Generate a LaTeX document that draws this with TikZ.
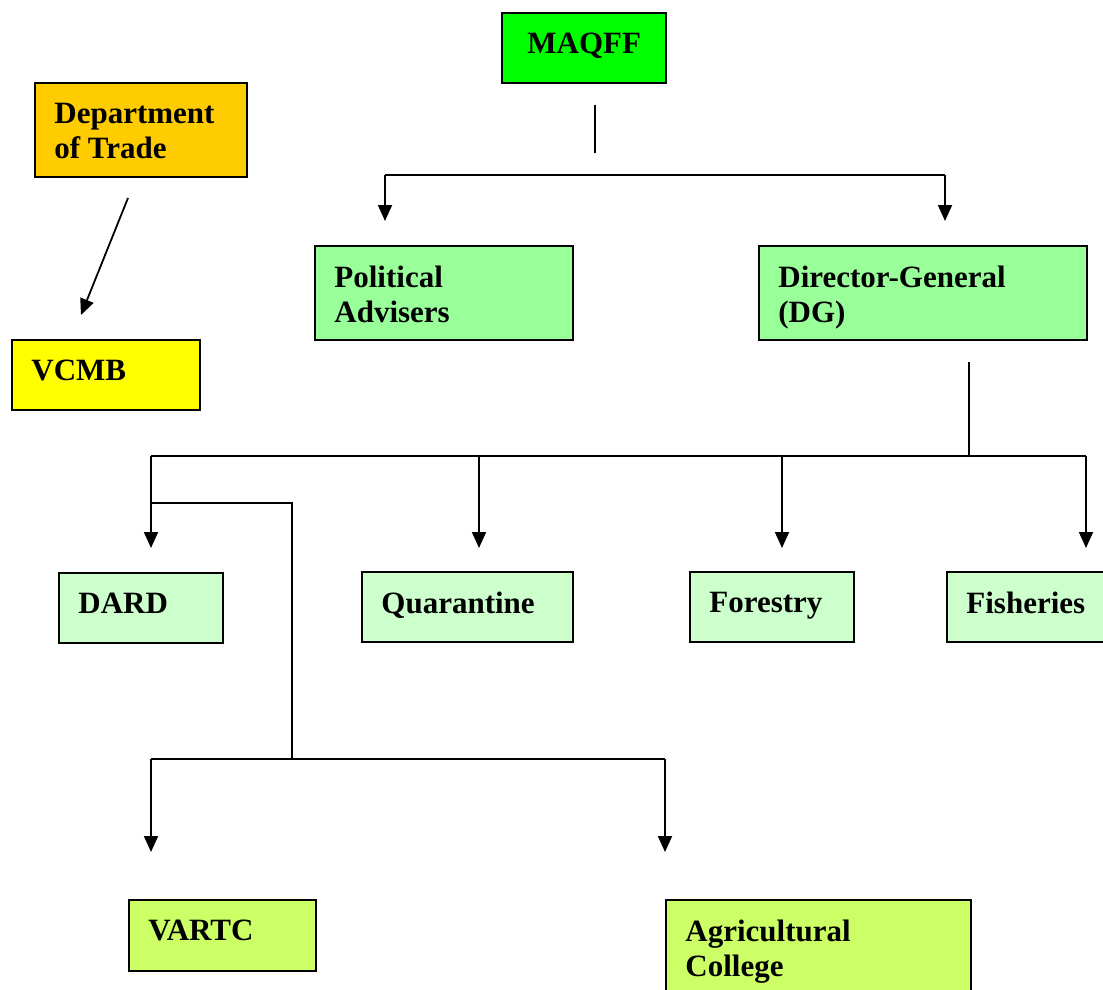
\documentclass[tikz,border=0pt]{standalone}
\usepackage{xcolor}
\usepackage{fontspec}
\setmainfont{Liberation Serif}
\usepackage{tikz}
\usetikzlibrary{positioning,arrows.meta}

\definecolor{maqffgreen}{HTML}{00FF00}
\definecolor{tradeorange}{HTML}{FFCC00}
\definecolor{vcmbyellow}{HTML}{FFFF00}
\definecolor{dggreen}{HTML}{99FF99}
\definecolor{deptgreen}{HTML}{CCFFCC}
\definecolor{collgreen}{HTML}{CCFF66}

\tikzset{
	orgbox/.style={draw=black, line width=1pt, anchor=north west, inner sep=0pt},
	orglbl/.style={anchor=north west, inner sep=0pt, align=left, xshift=10pt, yshift=-10.5pt,
		font=\bfseries\fontsize{15.5pt}{17.5pt}\selectfont},
	link/.style={line width=0.9pt},
	arr/.style={line width=0.9pt, -{Triangle[length=8pt,width=7pt]}}
}

\begin{document}
\begin{tikzpicture}[x=0.5pt, y=-0.5pt]
	\useasboundingbox (0,0) rectangle (1103,990);
	\clip (0,0) rectangle (1103,990);
	% boxes
	\node[orgbox, fill=maqffgreen, minimum width=82pt, minimum height=35pt, label={[orglbl, xshift=3pt]north west:MAQFF}] (maqff) at (501,12) {};
	\node[orgbox, fill=tradeorange, minimum width=106pt, minimum height=47pt, label={[orglbl]north west:Department\\of Trade}] (trade) at (34,82) {};
	\node[orgbox, fill=vcmbyellow, minimum width=94pt, minimum height=35pt, label={[orglbl]north west:VCMB}] (vcmb) at (11,339) {};
	\node[orgbox, fill=dggreen, minimum width=129pt, minimum height=47pt, label={[orglbl]north west:Political\\Advisers}] (polit) at (314,245) {};
	\node[orgbox, fill=dggreen, minimum width=164pt, minimum height=47pt, label={[orglbl]north west:Director-General\\(DG)}] (dg) at (758,245) {};
	\node[orgbox, fill=deptgreen, minimum width=82pt, minimum height=35pt, label={[orglbl]north west:DARD}] (dard) at (58,572) {};
	\node[orgbox, fill=deptgreen, minimum width=105.5pt, minimum height=35pt, label={[orglbl]north west:Quarantine}] (quar) at (361,571) {};
	\node[orgbox, fill=deptgreen, minimum width=82pt, minimum height=35pt, label={[orglbl]north west:Forestry}] (forest) at (689,571) {};
	\node[orgbox, fill=deptgreen, minimum width=90pt, minimum height=35pt, label={[orglbl]north west:Fisheries}] (fish) at (946,571) {};
	\node[orgbox, fill=collgreen, minimum width=93.5pt, minimum height=35.5pt, label={[orglbl]north west:VARTC}] (vartc) at (128,899) {};
	\node[orgbox, fill=collgreen, minimum width=152.5pt, minimum height=50pt, label={[orglbl]north west:Agricultural\\College}] (agri) at (665,899) {};
	% junction points
	\coordinate (mtop) at (595,105);
	\coordinate (mbot) at (595,153);
	\coordinate (tl) at (385,175);
	\coordinate (tr) at (945,175);
	\coordinate (tradeout) at (128,198);
	\coordinate (vcmbin) at (81,315);
	\coordinate (dgtop) at (969,362);
	\coordinate (dgbot) at (969,456);
	\coordinate (rl) at (151,456);
	\coordinate (rq) at (479,456);
	\coordinate (rf) at (782,456);
	\coordinate (rr) at (1086,456);
	\coordinate (bsplit) at (151,503);
	\coordinate (bturn) at (292,503);
	\coordinate (bl) at (151,759);
	\coordinate (bm) at (292,759);
	\coordinate (br) at (665,759);
	% connectors
	\draw[link] (mtop) -- (mbot);
	\draw[link] (tl) -- (tr);
	\draw[arr] (tl) -- (tl |- 0,221);
	\draw[arr] (tr) -- (tr |- 0,221);
	\draw[arr] (tradeout) -- (vcmbin);
	\draw[link] (dgtop) -- (dgbot);
	\draw[link] (rl) -- (rr);
	\draw[arr] (rl) -- (rl |- 0,548);
	\draw[arr] (rq) -- (rq |- 0,548);
	\draw[arr] (rf) -- (rf |- 0,548);
	\draw[arr] (rr) -- (rr |- 0,548);
	\draw[link] (bsplit) -- (bturn) -- (bm);
	\draw[link] (bl) -- (br);
	\draw[arr] (bl) -- (bl |- 0,852);
	\draw[arr] (br) -- (br |- 0,852);
\end{tikzpicture}
\end{document}
